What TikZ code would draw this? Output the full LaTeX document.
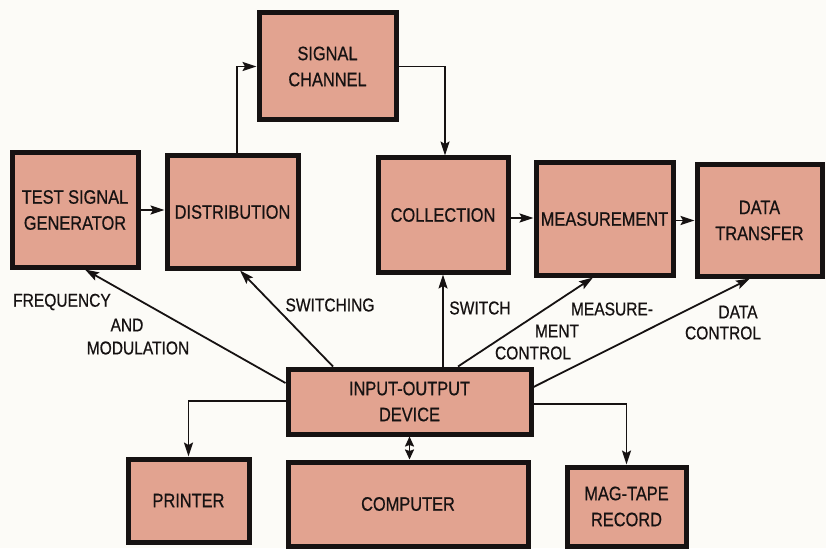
\documentclass[tikz,border=0pt]{standalone}
\usepackage{fontspec}
\setmainfont{Liberation Sans}[FakeStretch=0.84,FakeBold=0.6]
\usetikzlibrary{arrows.meta}
\definecolor{boxfill}{RGB}{226,163,144}
\definecolor{ink}{RGB}{22,18,18}
\definecolor{paper}{RGB}{252,251,247}
\begin{document}
\begin{tikzpicture}[x=1pt,y=-1pt,
 blk/.style={draw=ink, line width=5pt, fill=boxfill, align=center,
   font=\fontsize{19.5}{26}\selectfont, inner sep=0pt, text=ink},
 lbl/.style={font=\fontsize{18.5}{22}\selectfont, inner sep=0pt, text=ink},
 arr/.style={draw=ink, line width=1.8pt, -{Stealth[length=14pt,width=9pt,inset=2.5pt]}},
 darr/.style={draw=ink, line width=1.8pt, {Stealth[length=10pt,width=9pt,inset=1.5pt]}-{Stealth[length=10pt,width=9pt,inset=1.5pt]}}]
\fill[paper] (0,0) rectangle (826,548);
\useasboundingbox (0,0) rectangle (826,548);

% boxes
\node (tsg) [blk, minimum width=126pt, minimum height=114pt] at (75,210) {TEST SIGNAL\\GENERATOR};
\node (dist) [blk, minimum width=131pt, minimum height=112pt] at (232.5,212) {DISTRIBUTION};
\node (sigch) [blk, minimum width=137pt, minimum height=107pt] at (327.5,66.5) {SIGNAL\\CHANNEL};
\node (coll) [blk, minimum width=130pt, minimum height=114pt] at (443,215) {COLLECTION};
\node (meas) [blk, minimum width=137pt, minimum height=112pt] at (604.5,219) {MEASUREMENT};
\node (dt) [blk, minimum width=125pt, minimum height=111pt] at (759.5,220.5) {DATA\\TRANSFER};
\node (io) [blk, minimum width=243pt, minimum height=65pt] at (409.5,401.5) {INPUT-OUTPUT\\DEVICE};
\node (prn) [blk, minimum width=121pt, minimum height=83pt] at (188.5,500.5) {PRINTER};
\node (comp) [blk, minimum width=240pt, minimum height=84pt] at (408,504) {COMPUTER};
\node (mag) [blk, minimum width=119pt, minimum height=79pt] at (626.5,506.5) {MAG-TAPE\\RECORD};

% top chain
\draw[arr] (tsg.east) -- (tsg.east -| dist.west);
\draw[arr] ([xshift=4.5pt]dist.north) |- (sigch.west);
\draw[arr] (sigch.east) -| ([xshift=2pt]coll.north);
\draw[arr] ([yshift=-3pt]coll.east) -- ([yshift=-3pt]coll.east -| meas.west);
\draw[arr] ([yshift=-1.5pt]meas.east) -- ([yshift=-1.5pt]meas.east -| dt.west);

% control lines from input-output device
\draw[arr] ([yshift=18.5pt]io.west) -- ([xshift=10pt]tsg.south);
\draw[arr] ([xshift=-76.5pt]io.north) -- ([xshift=7.5pt]dist.south);
\draw[arr] (io.north -| coll.south) -- (coll.south);
\draw[arr] ([xshift=48.5pt]io.north) -- ([xshift=-11.5pt]meas.south);
\draw[arr] ([yshift=14.5pt]io.east) -- ([xshift=-9.5pt]dt.south);

% outputs
\draw[arr] ([yshift=0.5pt]io.west) -| (prn.north);
\draw[arr] ([yshift=-2.5pt]io.east) -| (mag.north);
\draw[darr] (io.south) -- (io.south |- comp.north);

% labels
\node (l1) [lbl] at (62,302) {FREQUENCY};
\node (l2) [lbl] at (127,325) {AND};
\node (l3) [lbl] at (138,348) {MODULATION};
\node (l4) [lbl] at (330,305) {SWITCHING};
\node (l5) [lbl] at (480,308) {SWITCH};
\node (l6) [lbl] at (612,309) {MEASURE-};
\node (l7) [lbl] at (557,331) {MENT};
\node (l8) [lbl] at (533,353) {CONTROL};
\node (l9) [lbl] at (738,312) {DATA};
\node (l10) [lbl] at (723,333) {CONTROL};
\end{tikzpicture}
\end{document}
